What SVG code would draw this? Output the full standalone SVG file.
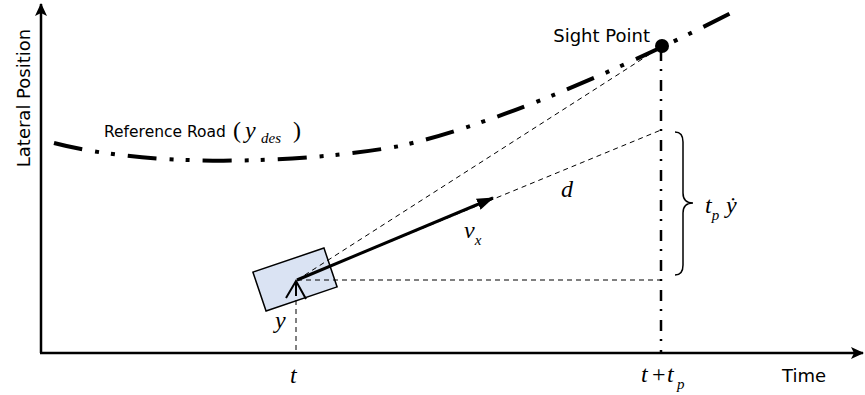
<svg xmlns="http://www.w3.org/2000/svg" width="865" height="395" viewBox="0 0 865 395">
<style>
.axis{stroke:#000;stroke-width:2.5;fill:none}
.thin{stroke:#000;stroke-width:1;stroke-dasharray:5 4;fill:none}
.road{stroke:#000;stroke-width:4;fill:none;stroke-dasharray:29 13 4 12 4 13}
.dashdot{stroke:#000;stroke-width:2.5;fill:none;stroke-dasharray:11 8 2 9}
.sans{font-family:"DejaVu Sans","Liberation Sans",sans-serif;font-size:18px;fill:#000}
.math{font-family:"Liberation Serif","Times New Roman",serif;font-style:italic;font-size:24px;fill:#000}
.sub{font-size:15px}
</style>
<defs>
<marker id="axisArrow" markerWidth="14" markerHeight="12" refX="12" refY="6" orient="auto" markerUnits="userSpaceOnUse">
<path d="M0,0 L13,6 L0,12 L3,6 z" fill="#000"/>
</marker>
<marker id="vecArrow" markerWidth="18" markerHeight="12" refX="16" refY="6" orient="auto" markerUnits="userSpaceOnUse">
<path d="M0,0 L17,6 L0,12 z" fill="#000"/>
</marker>
</defs>

<g id="axes">
<line class="axis" x1="41" y1="353" x2="41" y2="4" marker-end="url(#axisArrow)"/>
<line class="axis" x1="40" y1="353" x2="863" y2="353" marker-end="url(#axisArrow)"/>
<text class="sans" transform="translate(30,98) rotate(-90)" text-anchor="middle">Lateral Position</text>
<text class="sans" x="782" y="382">Time</text>
</g>

<g id="road">
<path class="road" d="M54,143 C150,168 300,164 400,146 C480,128 600,80 735,11"/>
<text class="sans" x="104" y="137" style="font-size:15.5px">Reference Road <tspan class="math" x="233" y="138" style="font-style:normal">(</tspan><tspan class="math" x="245">y</tspan><tspan class="math sub" x="261" y="143">des</tspan><tspan class="math" x="293" y="138" style="font-style:normal">)</tspan></text>
</g>

<g id="car">
<rect x="257.5" y="259" width="75" height="41" fill="#dae3f3" stroke="#000" stroke-width="1.5" transform="rotate(-18.7 295 279.5)"/>
</g>

<g id="connectors">
<line class="thin" x1="297" y1="280" x2="661" y2="47"/>
<line class="thin" x1="297" y1="280" x2="661" y2="130"/>
<line class="thin" x1="297" y1="280" x2="661" y2="280"/>
<line class="thin" x1="296" y1="282" x2="296" y2="352"/>
<line class="dashdot" x1="661" y1="50" x2="661" y2="352"/>
<line x1="297" y1="280" x2="493" y2="198" stroke="#000" stroke-width="3" marker-end="url(#vecArrow)"/>
<path d="M296,296 L296,281 M286,298 L296,281 L306,299" stroke="#000" stroke-width="2" fill="none"/>
<path d="M675,132 Q683,132 683,142 L683,193 Q683,203 693,203 Q683,203 683,213 L683,265 Q683,275 675,275" stroke="#000" stroke-width="1.5" fill="none"/>
</g>

<g id="sight-point">
<circle cx="662" cy="46" r="7" fill="#000"/>
<text class="sans" x="650" y="42" text-anchor="end">Sight Point</text>
</g>

<g id="labels">
<text class="math" x="275" y="328">y</text>
<text class="math" x="290" y="383">t</text>
<text class="math" x="464" y="238">v<tspan class="sub" dy="7">x</tspan></text>
<text class="math" x="561" y="197">d</text>
<text class="math" x="705" y="213">t<tspan class="sub" dy="7">p</tspan><tspan x="726" dy="-7">ẏ</tspan></text>
<text class="math" x="641" y="382">t<tspan x="652" style="font-style:normal">+</tspan><tspan x="667">t</tspan><tspan class="sub" x="677" dy="7">p</tspan></text>
</g>
</svg>
